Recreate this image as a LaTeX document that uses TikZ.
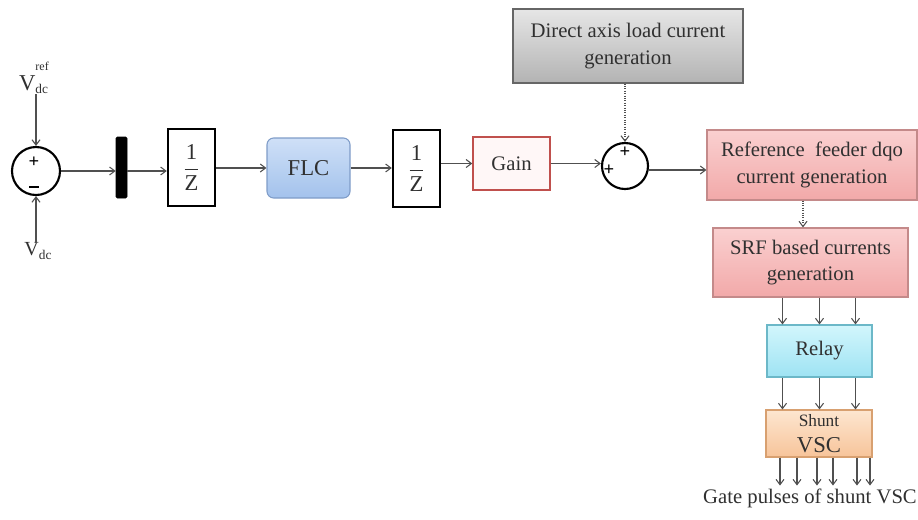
\documentclass[tikz,border=0pt]{standalone}
\usepackage{amsmath}
\usepackage{fontspec}
\setmainfont{Liberation Serif}
\newfontfamily\tnr{Liberation Serif}
\usetikzlibrary{arrows.meta,calc}
\definecolor{linec}{HTML}{505050}
\definecolor{txtc}{HTML}{303030}
\definecolor{flcT}{HTML}{CFE0F7}
\definecolor{flcB}{HTML}{A3C2EC}
\definecolor{flcD}{HTML}{7F9CC8}
\definecolor{pnkT}{HTML}{FAD0D0}
\definecolor{pnkB}{HTML}{F2A9A9}
\definecolor{pnkD}{HTML}{C48A8A}
\definecolor{gryT}{HTML}{E6E6E6}
\definecolor{gryB}{HTML}{B3B3B3}
\definecolor{cynT}{HTML}{D2F6FC}
\definecolor{cynB}{HTML}{9EE3F3}
\definecolor{cynD}{HTML}{6CB8C8}
\definecolor{orgT}{HTML}{FDE6D0}
\definecolor{orgB}{HTML}{F7C49A}
\definecolor{orgD}{HTML}{D8A070}
\definecolor{gainD}{HTML}{C0504D}
\begin{document}
\begin{tikzpicture}[x=0.75pt,y=-0.75pt,
  arr/.style={draw=linec, line width=0.8pt, -{Straight Barb[length=4pt,width=6pt]}},
  dotarr/.style={arr, densely dotted},
  lbl/.style={text=txtc, font=\tnr\fontsize{15.5}{20}\selectfont, align=center, inner sep=0pt},
  zbox/.style={draw=black, line width=1.8pt, fill=white, minimum width=35.25pt, minimum height=57.75pt, inner sep=0pt, text=txtc, font=\tnr\fontsize{17}{20}\selectfont},
  sumc/.style={circle, draw=black, line width=1.6pt, fill=white, inner sep=0pt},
  sign/.style={text=black, font=\tnr\bfseries\fontsize{14}{14}\selectfont, inner sep=0pt},
  pinkbox/.style={lbl, draw=pnkD, line width=0.8pt, top color=pnkT, bottom color=pnkB}
]
\useasboundingbox (0,0) rectangle (918,519);

% input labels
\node[lbl, font=\tnr\fontsize{17}{20}\selectfont] (vref) at (38,78) {V\rlap{\raisebox{-0.35ex}{\fontsize{10}{10}\selectfont dc}}\rlap{\raisebox{1.9ex}{\fontsize{9}{9}\selectfont ref}}\phantom{dc}};
\node[lbl, font=\tnr\fontsize{15}{18}\selectfont] (vdc) at (38,251) {V\raisebox{-0.35ex}{\fontsize{10}{10}\selectfont dc}};

% summation 1
\node[sumc, minimum size=36pt] (s1) at (36,171) {};
\node[sign] (s1p) at (34,162) {+};
\node[sign] (s1m) at (34,187) {\rule{7pt}{1.4pt}};

% bar
\node[fill=black, draw=black, rounded corners=1pt, minimum width=8.25pt, minimum height=45.75pt, inner sep=0pt] (bar) at (121.5,167.5) {};

% 1/Z boxes
\node[zbox] (z1) at (191.5,167.5) {$\dfrac{\text{\tnr 1}}{\text{\tnr Z}}$};
\node[zbox] (z2) at (416.5,168.5) {$\dfrac{\text{\tnr 1}}{\text{\tnr Z}}$};

% FLC
\node[lbl, draw=flcD, line width=0.8pt, rounded corners=5pt, top color=flcT, bottom color=flcB, minimum width=62.25pt, minimum height=45pt, font=\tnr\fontsize{17}{20}\selectfont] (flc) at (308.5,168) {FLC};

% Gain
\node[lbl, draw=gainD, line width=1.1pt, fill=red!3, minimum width=57.75pt, minimum height=39.75pt] (gain) at (511.5,163.5) {Gain};

% summation 2
\node[sumc, minimum size=34.5pt] (s2) at (625,166) {};
\node[sign] (s2t) at (625,152) {+};
\node[sign] (s2l) at (609,170) {+};

% Direct axis
\node[lbl, draw=gray!80!black, line width=0.8pt, top color=gryT, bottom color=gryB, minimum width=172.5pt, minimum height=55.5pt] (dir) at (628,46) {Direct axis load current\\generation};

% Reference feeder
\node[pinkbox, minimum width=157.5pt, minimum height=52.5pt] (ref) at (812,165) {Reference\ \ feeder dqo\\current generation};

% SRF
\node[pinkbox, minimum width=146.25pt, minimum height=51.75pt] (srf) at (810.5,262.5) {SRF based currents\\generation};

% Relay
\node[lbl, draw=cynD, line width=0.8pt, top color=cynT, bottom color=cynB, minimum width=78.75pt, minimum height=39pt] (relay) at (819.5,351) {Relay};

% Shunt VSC
\node[lbl, draw=orgD, line width=0.8pt, top color=orgT, bottom color=orgB, minimum width=79.5pt, minimum height=35.25pt] (shunt) at (819,433.5) {{\fontsize{13}{15}\selectfont Shunt}\\[-1pt]{\fontsize{17}{17}\selectfont VSC}};

% output label
\node[lbl] (gate) at (810,498) {Gate pulses of shunt VSC};

% connectors
\draw[arr] (vref.south -| s1.north) -- (s1.north);
\draw[arr] (vdc.north -| s1.south) -- (s1.south);
\draw[arr] (s1.east) -- (s1.east -| bar.west);
\draw[arr] (bar.east |- s1.east) -- (s1.east -| z1.west);
\draw[arr] (z1.east |- flc.west) -- (flc.west);
\draw[arr] (flc.east) -- (flc.east -| z2.west);
\draw[arr] (z2.east |- gain.west) -- (gain.west);
\draw[arr] (gain.east) -- (gain.east -| s2.west);
\draw[dotarr] (dir.south -| s2.north) -- (s2.north);
\draw[arr] ([yshift=-3pt]s2.east) -- ([yshift=-3pt]s2.east -| ref.west);
\draw[dotarr] ([xshift=-6.75pt]ref.south) -- ([xshift=-6.75pt]ref.south |- srf.north);

\foreach \dx in {-37,0,36}
  \draw[arr] ([xshift=\dx*0.75pt]relay.north |- srf.south) -- ([xshift=\dx*0.75pt]relay.north);
\foreach \dx in {-37,0,36}
  \draw[arr] ([xshift=\dx*0.75pt]relay.south) -- ([xshift=\dx*0.75pt]relay.south |- shunt.north);
\foreach \dx in {-39,-22,-2,14,38,51}
  \draw[arr] ([xshift=\dx*0.75pt]shunt.south) -- ([xshift=\dx*0.75pt,yshift=-21pt]shunt.south);
\end{tikzpicture}
\end{document}
